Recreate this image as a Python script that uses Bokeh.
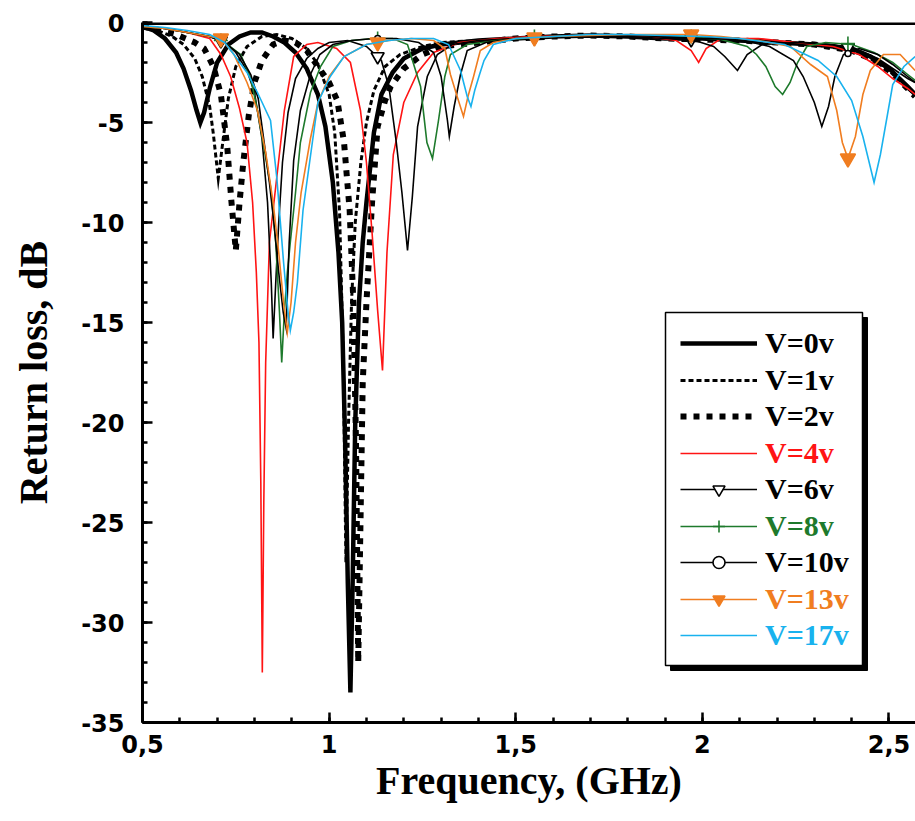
from bokeh.plotting import figure
from bokeh.models import (Range1d, FixedTicker, SingleIntervalTicker, Span, BoxAnnotation,
                          Legend, LegendItem, CustomJSTickFormatter)
from bokeh.embed import file_html
from bokeh.resources import INLINE

# ---------------- data ----------------
FREQ_TICKS = [0.5, 1.0, 1.5, 2.0, 2.5]
FREQ_TICK_LABELS = ["0,5", "1", "1,5", "2", "2,5"]

SERIES_NAMES = ["V=0v", "V=1v", "V=2v", "V=4v", "V=6v", "V=8v", "V=10v", "V=13v", "V=17v"]

V0_f = [0.50, 0.53, 0.56, 0.59, 0.61, 0.63, 0.645, 0.655, 0.665, 0.68, 0.70, 0.73, 0.76, 0.79, 0.82, 0.85,
        0.88, 0.91, 0.94, 0.97, 0.99, 1.01, 1.025, 1.035, 1.043, 1.05, 1.057, 1.063, 1.07, 1.08, 1.09, 1.10,
        1.12, 1.14, 1.17, 1.20, 1.25, 1.30, 1.40, 1.50, 1.60, 1.70, 1.80, 1.90, 2.00, 2.10, 2.20, 2.30, 2.40,
        2.45, 2.50, 2.55, 2.57]
V0_db = [-0.2, -0.4, -0.8, -1.5, -2.3, -3.4, -4.4, -5.0, -4.5, -3.3, -2.0, -1.1, -0.7, -0.5, -0.5, -0.7,
         -1.0, -1.5, -2.3, -3.6, -5.2, -8.0, -11.5, -15.0, -21.0, -28.0, -33.5, -28.0, -20.0, -14.0, -11.0, -9.0,
         -5.5, -3.6, -2.5, -1.8, -1.3, -1.1, -0.9, -0.8, -0.7, -0.65, -0.7, -0.8, -0.8, -0.9, -1.0, -1.1, -1.3,
         -1.7, -2.3, -3.2, -3.6]

V1_f = [0.50, 0.54, 0.58, 0.61, 0.64, 0.66, 0.68, 0.69, 0.703, 0.715, 0.73, 0.75, 0.78, 0.82, 0.86, 0.90,
        0.94, 0.97, 1.00, 1.015, 1.028, 1.038, 1.045, 1.052, 1.06, 1.07, 1.085, 1.10, 1.12, 1.15, 1.19, 1.25,
        1.30, 1.40, 1.50, 1.60, 1.70, 1.80, 1.90, 2.00, 2.10, 2.20, 2.30, 2.40, 2.45, 2.50, 2.55, 2.57]
V1_db = [-0.2, -0.4, -0.7, -1.1, -1.8, -2.7, -4.2, -5.6, -7.8, -6.0, -3.8, -2.2, -1.2, -0.7, -0.6, -0.8,
         -1.3, -2.1, -3.6, -5.5, -9.5, -17.0, -27.0, -20.0, -14.0, -10.0, -7.0, -5.0, -3.4, -2.2, -1.6, -1.2,
         -1.0, -0.9, -0.8, -0.7, -0.65, -0.7, -0.8, -0.8, -0.9, -1.0, -1.1, -1.4, -1.8, -2.4, -3.3, -3.6]

V2_f = [0.50, 0.55, 0.59, 0.615, 0.64, 0.665, 0.69, 0.71, 0.727, 0.738, 0.75, 0.76, 0.77, 0.785, 0.80, 0.82,
        0.85, 0.88, 0.91, 0.94, 0.97, 1.00, 1.022, 1.04, 1.055, 1.065, 1.072, 1.078, 1.084, 1.09, 1.10, 1.115,
        1.13, 1.15, 1.165, 1.20, 1.25, 1.30, 1.40, 1.50, 1.60, 1.70, 1.80, 1.90, 2.00, 2.10, 2.20, 2.30, 2.40,
        2.45, 2.50, 2.55, 2.57]
V2_db = [-0.2, -0.4, -0.6, -0.8, -1.0, -1.3, -2.2, -3.6, -6.2, -8.9, -11.4, -9.0, -7.0, -4.6, -3.0, -1.9,
         -1.1, -0.9, -1.0, -1.4, -2.2, -3.0, -3.9, -6.0, -9.4, -14.0, -21.0, -32.0, -25.0, -18.0, -14.0, -9.0,
         -5.2, -3.9, -3.2, -2.3, -1.6, -1.2, -1.0, -0.8, -0.7, -0.65, -0.7, -0.8, -0.85, -0.9, -1.0, -1.1, -1.4,
         -1.8, -2.4, -3.3, -3.7]

V4_f = [0.50, 0.56, 0.62, 0.68, 0.71, 0.736, 0.76, 0.78, 0.795, 0.805, 0.812, 0.817, 0.821, 0.825, 0.83, 0.84,
        0.86, 0.88, 0.905, 0.94, 0.97, 1.02, 1.057, 1.084, 1.10, 1.115, 1.13, 1.143, 1.155, 1.172, 1.20, 1.237,
        1.28, 1.35, 1.45, 1.55, 1.65, 1.75, 1.85, 1.93, 1.97, 1.99, 2.01, 2.05, 2.15, 2.25, 2.35, 2.42, 2.47,
        2.51, 2.55, 2.57]
V4_db = [-0.2, -0.3, -0.5, -0.8, -1.6, -2.7, -4.3, -6.0, -9.0, -12.5, -16.0, -23.0, -32.5, -24.0, -17.0, -11.0,
         -7.7, -4.4, -1.7, -1.1, -1.0, -1.3, -2.0, -4.4, -7.0, -10.5, -14.4, -17.4, -11.5, -6.6, -4.0, -2.5,
         -1.5, -1.0, -0.8, -0.7, -0.65, -0.6, -0.7, -0.9, -1.4, -2.0, -1.3, -0.8, -0.8, -1.0, -1.2, -1.6, -2.2,
         -2.8, -3.3, -3.6]

V6_f = [0.50, 0.56, 0.62, 0.68, 0.72, 0.75, 0.78, 0.80, 0.82, 0.835, 0.845, 0.85, 0.857, 0.865, 0.875, 0.89,
        0.91, 0.94, 0.97, 1.00, 1.05, 1.10, 1.14, 1.16, 1.18, 1.195, 1.21, 1.223, 1.237, 1.263, 1.29, 1.33,
        1.40, 1.50, 1.60, 1.70, 1.80, 1.90, 1.98, 2.03, 2.06, 2.094, 2.12, 2.16, 2.25, 2.35, 2.42, 2.47, 2.51,
        2.55, 2.57]
V6_db = [-0.2, -0.3, -0.5, -0.7, -1.0, -1.5, -2.4, -3.5, -5.8, -9.0, -13.0, -15.8, -13.0, -10.0, -7.0, -4.5,
         -2.8, -1.8, -1.3, -1.0, -0.9, -1.2, -1.9, -3.2, -6.0, -8.5, -11.4, -8.7, -5.2, -2.7, -1.6, -1.1,
         -0.9, -0.8, -0.7, -0.65, -0.7, -0.8, -0.9, -1.2, -1.7, -2.4, -1.6, -1.1, -1.0, -1.1, -1.4, -1.8, -2.3,
         -2.8, -3.0]

V8_f = [0.50, 0.56, 0.62, 0.68, 0.72, 0.763, 0.79, 0.808, 0.825, 0.843, 0.857, 0.867, 0.873, 0.88, 0.888, 0.896,
        0.91, 0.923, 0.95, 0.977, 1.01, 1.06, 1.12, 1.17, 1.21, 1.245, 1.262, 1.277, 1.293, 1.31, 1.325, 1.37,
        1.45, 1.55, 1.65, 1.75, 1.85, 1.95, 2.05, 2.12, 2.145, 2.17, 2.195, 2.215, 2.235, 2.255, 2.28, 2.33,
        2.40, 2.46, 2.51, 2.55, 2.57]
V8_db = [-0.2, -0.3, -0.5, -0.7, -1.0, -1.6, -2.8, -4.4, -6.2, -8.2, -11.0, -14.5, -17.0, -14.5, -12.5, -11.0,
         -8.5, -6.0, -3.5, -2.2, -1.2, -0.9, -0.8, -0.8, -1.1, -3.2, -6.0, -6.8, -4.9, -2.7, -1.6, -1.1,
         -0.9, -0.75, -0.65, -0.6, -0.65, -0.7, -0.85, -1.2, -1.6, -2.2, -3.2, -3.6, -3.0, -2.0, -1.2, -1.0,
         -1.1, -1.5, -2.0, -2.6, -2.9]

V10_f = [0.50, 0.56, 0.62, 0.68, 0.72, 0.76, 0.79, 0.81, 0.826, 0.84, 0.852, 0.865, 0.877, 0.885, 0.893, 0.905,
         0.923, 0.95, 0.975, 1.01, 1.06, 1.12, 1.18, 1.24, 1.28, 1.30, 1.317, 1.322, 1.335, 1.352, 1.37, 1.42,
         1.50, 1.60, 1.70, 1.80, 1.90, 2.00, 2.10, 2.18, 2.244, 2.27, 2.30, 2.32, 2.338, 2.355, 2.378, 2.42,
         2.47, 2.51, 2.55, 2.57]
V10_db = [-0.2, -0.3, -0.5, -0.7, -1.0, -1.6, -2.6, -3.8, -6.0, -8.0, -10.0, -12.5, -14.5, -15.3, -11.0, -6.9,
          -4.4, -2.6, -1.6, -1.1, -0.9, -0.8, -0.8, -1.0, -1.5, -2.7, -4.9, -5.7, -4.2, -2.6, -1.4, -1.0,
          -0.8, -0.7, -0.65, -0.65, -0.7, -0.8, -0.85, -1.2, -1.9, -2.7, -4.0, -5.2, -4.2, -2.7, -1.6, -1.3,
          -1.6, -2.1, -2.7, -3.0]

V13_f = [0.50, 0.56, 0.62, 0.68, 0.71, 0.745, 0.78, 0.808, 0.83, 0.85, 0.865, 0.878, 0.888, 0.898, 0.91, 0.925,
         0.95, 0.97, 1.00, 1.04, 1.10, 1.16, 1.22, 1.28, 1.31, 1.325, 1.343, 1.36, 1.372, 1.387, 1.405, 1.44,
         1.50, 1.60, 1.70, 1.80, 1.90, 1.97, 2.05, 2.15, 2.236, 2.29, 2.335, 2.36, 2.375, 2.39, 2.41, 2.43,
         2.45, 2.485, 2.53, 2.55, 2.57]
V13_db = [-0.2, -0.3, -0.5, -0.7, -0.8, -1.6, -3.0, -4.4, -6.5, -9.0, -11.5, -14.0, -15.5, -14.0, -11.0, -8.5,
          -5.8, -4.0, -2.7, -1.7, -1.1, -0.9, -0.8, -0.9, -1.3, -2.6, -3.7, -4.7, -3.7, -2.7, -1.4, -1.0,
          -0.8, -0.7, -0.65, -0.6, -0.6, -0.6, -0.7, -0.9, -1.2, -2.1, -2.7, -4.4, -6.0, -6.8, -5.7, -3.6,
          -2.4, -1.6, -1.6, -2.0, -2.4]

V17_f = [0.50, 0.56, 0.62, 0.68, 0.72, 0.745, 0.78, 0.808, 0.843, 0.86, 0.878, 0.89, 0.896, 0.905, 0.915, 0.93,
         0.955, 0.97, 1.003, 1.04, 1.10, 1.16, 1.22, 1.28, 1.32, 1.352, 1.37, 1.38, 1.39, 1.403, 1.415, 1.44,
         1.50, 1.60, 1.70, 1.80, 1.90, 2.00, 2.10, 2.22, 2.31, 2.36, 2.40, 2.43, 2.46, 2.477, 2.495, 2.51,
         2.54, 2.57]
V17_db = [-0.15, -0.25, -0.4, -0.6, -1.0, -1.6, -2.5, -3.5, -4.9, -7.8, -12.0, -14.5, -15.4, -14.5, -13.0, -9.4,
          -6.0, -4.0, -2.7, -1.7, -1.1, -0.9, -0.8, -0.8, -1.1, -2.4, -3.7, -4.2, -3.4, -2.6, -1.9, -1.1,
          -0.8, -0.7, -0.6, -0.6, -0.65, -0.7, -0.8, -1.1, -1.9, -2.7, -3.9, -5.7, -8.0, -6.6, -4.7, -3.1,
          -2.2, -1.7]

# sparse symbol positions (Origin-style "every N points" markers)
MARK_f = [0.71, 1.13, 1.55, 1.97, 2.39]
V6_mark_db = [-0.9, -1.7, -0.75, -0.85, -1.25]
V8_mark_db = [-0.9, -0.8, -0.7, -0.7, -1.05]
V10_mark_db = [-0.9, -0.8, -0.75, -0.8, -1.55]
V13_mark_db = [-0.8, -1.0, -0.75, -0.6, -6.8]

# ---------------- styling ----------------
X0, X1 = 0.5, 2.571
Y0, Y1 = -35.0, 0.0

SERIF = "Liberation Serif"
SANS = "DejaVu Sans"

series = [
    dict(f=V0_f, db=V0_db, color="black", width=4.5, dash="solid", tcolor="black"),
    dict(f=V1_f, db=V1_db, color="black", width=3, dash="5 3", tcolor="black"),
    dict(f=V2_f, db=V2_db, color="black", width=6, dash="6 7", tcolor="black"),
    dict(f=V4_f, db=V4_db, color="#ff1414", width=1.6, dash="solid", tcolor="#ff1414"),
    dict(f=V6_f, db=V6_db, color="black", width=1.6, dash="solid", tcolor="black",
         mark=V6_mark_db, marker="inverted_triangle", msize=13, mfill="white", mline="black"),
    dict(f=V8_f, db=V8_db, color="#1e7a2c", width=1.6, dash="solid", tcolor="#1e7a2c",
         mark=V8_mark_db, marker="cross", msize=14, mfill="#1e7a2c", mline="#1e7a2c"),
    dict(f=V10_f, db=V10_db, color="black", width=1.6, dash="solid", tcolor="black",
         mark=V10_mark_db, marker="circle", msize=6, mfill="white", mline="black"),
    dict(f=V13_f, db=V13_db, color="#f07d20", width=1.6, dash="solid", tcolor="#f07d20",
         mark=V13_mark_db, marker="inverted_triangle", msize=15, mfill="#f07d20", mline="#f07d20"),
    dict(f=V17_f, db=V17_db, color="#19b2ee", width=1.6, dash="solid", tcolor="#19b2ee"),
]

W, H = 915, 821
FRAME_L, FRAME_T, FRAME_R, FRAME_B = 142, 22, 915, 722
p = figure(width=W, height=H, output_backend="svg", toolbar_location=None,
           x_range=Range1d(X0, X1), y_range=Range1d(Y0, Y1),
           min_border_left=FRAME_L, min_border_right=W - FRAME_R, min_border_top=FRAME_T,
           min_border_bottom=H - FRAME_B,
           background_fill_color="white", border_fill_color="white")
p.outline_line_color = None
p.xgrid.visible = False
p.ygrid.visible = False

renderers = []
for s in series:
    r = p.line(s["f"], s["db"], line_color=s["color"], line_width=s["width"],
               line_dash=s["dash"], line_join="miter")
    rs = [r]
    if "mark" in s:
        m = p.scatter(MARK_f, s["mark"], marker=s["marker"], size=s["msize"],
                      fill_color=s["mfill"], line_color=s["mline"], line_width=1.6)
        rs.append(m)
    renderers.append(rs)

# top frame border
p.add_layout(Span(location=0, dimension="width", line_color="black", line_width=5))

# axes
xa = p.xaxis[0]
xa.ticker = FixedTicker(ticks=FREQ_TICKS, minor_ticks=[round(0.5 + 0.1 * k, 2) for k in range(21)])
xa.formatter = CustomJSTickFormatter(args=dict(tvals=FREQ_TICKS, tlabels=FREQ_TICK_LABELS), code="""
const i = tvals.findIndex(t => Math.abs(t - tick) < 1e-6);
return i >= 0 ? tlabels[i] : '';
""")
ya = p.yaxis[0]
ya.ticker = SingleIntervalTicker(interval=5, num_minor_ticks=5)
ya.formatter = CustomJSTickFormatter(code="return String(Math.round(tick));")

for ax in (xa, ya):
    ax.axis_line_width = 3
    ax.axis_line_color = "black"
    ax.major_tick_in = 10
    ax.major_tick_out = 0
    ax.minor_tick_in = 5
    ax.minor_tick_out = 0
    ax.major_tick_line_width = 2.5
    ax.minor_tick_line_width = 2.5
    ax.major_tick_line_color = "black"
    ax.minor_tick_line_color = "black"
    ax.major_label_text_font = SANS
    ax.major_label_text_font_style = "bold"
    ax.major_label_text_font_size = "24px"
    ax.major_label_text_color = "black"
    ax.axis_label_text_font = SERIF
    ax.axis_label_text_font_style = "bold"
    ax.axis_label_text_font_size = "40px"
    ax.axis_label_text_color = "black"

xa.axis_label = "Frequency, (GHz)"
xa.major_label_standoff = 12
xa.axis_label_standoff = 2
ya.axis_label = "Return loss, dB"
ya.major_label_standoff = 18
ya.axis_label_standoff = 22

# ---------------- legend ----------------
PX_PER_X = (FRAME_R - FRAME_L) / (X1 - X0)
PX_PER_Y = (FRAME_B - FRAME_T) / (Y1 - Y0)


def dx(px):
    return X0 + (px - FRAME_L) / PX_PER_X


def dy(py):
    return Y1 - (py - FRAME_T) / PX_PER_Y


box_l, box_t, box_r, box_b = 665, 312, 862, 665
p.add_layout(BoxAnnotation(left=dx(box_l + 5), right=dx(box_r + 5), top=dy(box_t + 5), bottom=dy(box_b + 5),
                           fill_color="black", fill_alpha=1, line_color="black", line_alpha=1))
p.add_layout(BoxAnnotation(left=dx(box_l), right=dx(box_r), top=dy(box_t), bottom=dy(box_b),
                           fill_color="white", fill_alpha=1, line_color="black", line_width=1.5, line_alpha=1))

row0, row_step, item_h = 345, 36.5, 30
for i, (name, s, rs) in enumerate(zip(SERIES_NAMES, series, renderers)):
    cy = row0 + i * row_step
    leg = Legend(items=[LegendItem(label=name, renderers=rs)],
                 location=(680 - FRAME_L, FRAME_B - (cy + item_h / 2)),
                 label_text_color=s["tcolor"], label_text_font=SERIF, label_text_font_style="bold",
                 label_text_font_size="30px", label_height=item_h, glyph_height=item_h, glyph_width=77,
                 label_standoff=8, padding=0, margin=0, spacing=0,
                 border_line_alpha=0, background_fill_alpha=0)
    p.add_layout(leg)

open("out.html", "w").write(file_html(p, INLINE))
